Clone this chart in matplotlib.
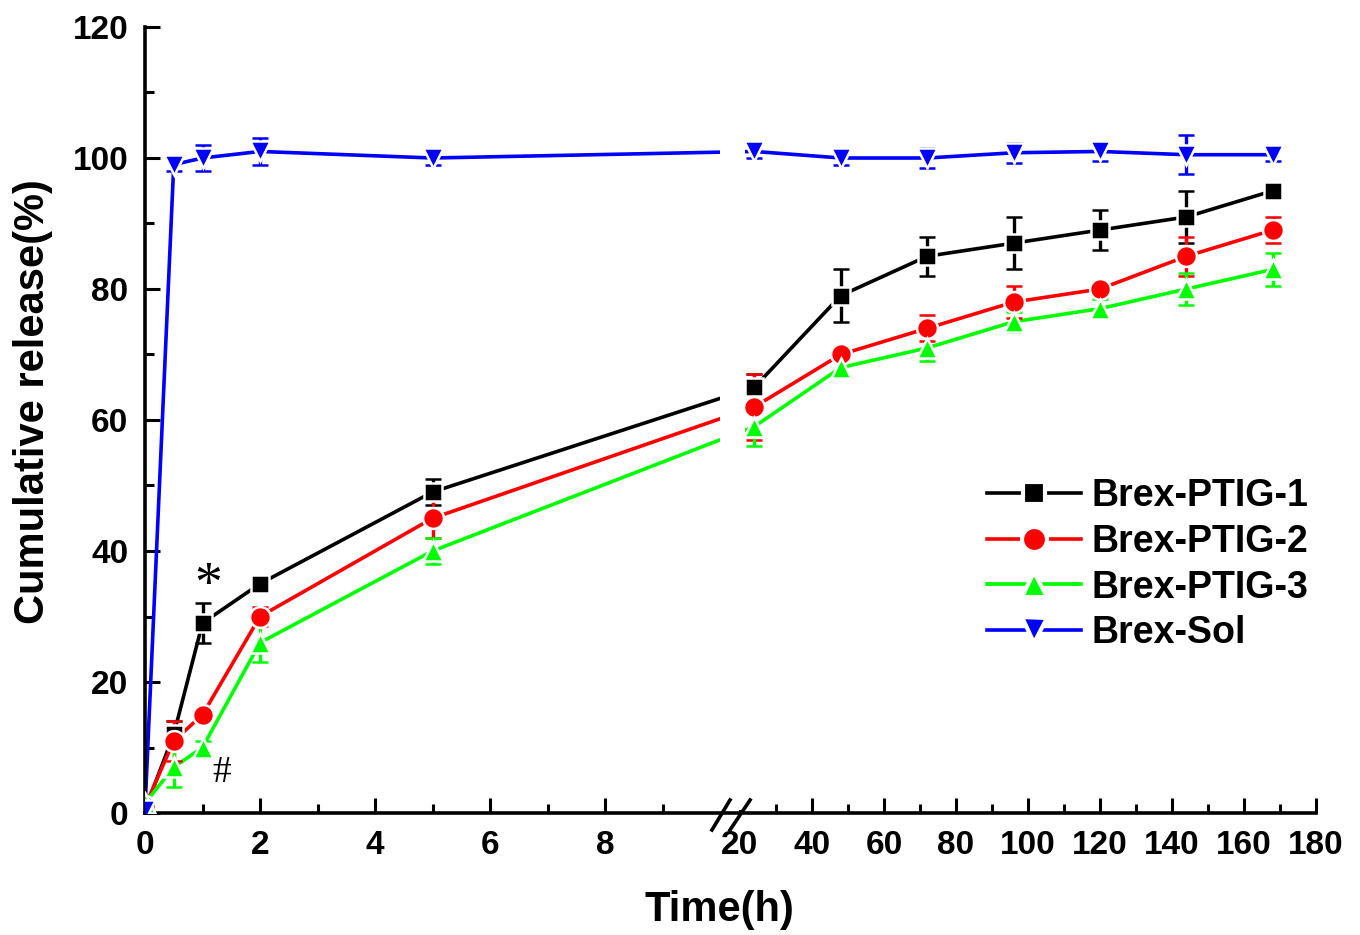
import numpy as np
import matplotlib
matplotlib.use("Agg")
import matplotlib.pyplot as plt
from matplotlib.lines import Line2D
from matplotlib.patches import Rectangle
import matplotlib.transforms as mtransforms

# 取样时间点 (h)
time_h = [0, 0.5, 1, 2, 5, 24, 48, 72, 96, 120, 144, 168]

# 累积释放 (%) 及误差
ptig1 = [0.5, 12, 29, 35, 49, 65, 79, 85, 87, 89, 91, 95]
ptig1_err = [0.5, 2, 3, 1, 2, 2, 4, 3, 4, 3, 4, 1]
ptig2 = [1, 11, 15, 30, 45, 62, 70, 74, 78, 80, 85, 89]
ptig2_err = [0.5, 3, 1, 1.5, 3, 5, 1, 2, 2.5, 1, 3, 2]
ptig3 = [1.5, 7, 10, 26, 40, 59, 68, 71, 75, 77, 80, 83]
ptig3_err = [0.5, 3, 1, 3, 2, 3, 1, 2, 1.5, 1.5, 2.5, 2.5]
sol = [0.5, 99, 100, 101, 100, 101, 100, 100, 100.8, 101, 100.5, 100.5]
sol_err = [0.5, 1, 2, 2, 1, 1, 1, 1.5, 1.5, 1.5, 3, 1]

labels = ["Brex-PTIG-1", "Brex-PTIG-2", "Brex-PTIG-3", "Brex-Sol"]
colors = ["#000000", "#ff0000", "#00ff00", "#0000ff"]
markers = ["s", "o", "^", "v"]
msizes = [13, 15, 15, 15]

x_major = [0, 2, 4, 6, 8, 20, 40, 60, 80, 100, 120, 140, 160, 180]
x_minor = [1, 3, 5, 7, 9, 30, 50, 70, 90, 110, 130, 150, 170]


def fwd(x):
    """断轴: 0-10 h 拉伸, 20-180 h 压缩"""
    x = np.asarray(x, dtype=float)
    return np.where(x <= 10, x * 57.5,
                    np.where(x < 20, 575 + (x - 10) * 2.0, 595 + (x - 20) * 3.6))


def inv(u):
    u = np.asarray(u, dtype=float)
    return np.where(u <= 575, u / 57.5,
                    np.where(u < 595, 10 + (u - 575) / 2.0, 20 + (u - 595) / 3.6))


plt.rcParams["font.family"] = ["Liberation Sans", "DejaVu Sans"]
plt.rcParams["font.weight"] = "bold"

fig = plt.figure(figsize=(13.6, 9.35), dpi=100)
ax = fig.add_axes([145 / 1360, 1 - 813 / 935, 1171 / 1360, 786 / 935])
ax.set_xscale("function", functions=(fwd, inv))
ax.set_xlim(0, 180)
ax.set_ylim(0, 120)

series = [(ptig1, ptig1_err), (ptig2, ptig2_err), (ptig3, ptig3_err), (sol, sol_err)]
handles = []
for i, (vals, errs) in enumerate(series):
    ax.plot(time_h, vals, color=colors[i], lw=2.6, zorder=2 + i * 0.01)
    ax.errorbar(time_h, vals, yerr=errs, fmt=markers[i], color=colors[i],
                ms=msizes[i], mec="white", mew=1.8, ecolor=colors[i],
                elinewidth=2.4, capsize=6, capthick=2.4, zorder=4 + i * 0.01)
    handles.append(Line2D([], [], color=colors[i], lw=2.6, marker=markers[i],
                          ms=msizes[i] + 3, mec="white", mew=3))

# 断轴处遮挡连线
trans = mtransforms.blended_transform_factory(ax.transData, ax.transAxes)
ax.add_patch(Rectangle((10.05, 0.004), 21.3 - 10.05, 0.996, transform=trans,
                       facecolor="white", edgecolor="none", zorder=3))
for x0, x1 in [(9.86, 15.0), (15.0, 22.8)]:
    ax.add_line(Line2D([x0, x1], [-0.0216, 0.0165], transform=trans, color="black",
                       lw=2.6, clip_on=False, zorder=5))

ax.set_xticks(x_major)
ax.set_xticklabels([str(v) for v in x_major])
ax.set_xticks(x_minor, minor=True)
ax.set_yticks(np.arange(0, 121, 20))
ax.set_yticks(np.arange(10, 120, 20), minor=True)

for s in ["top", "right"]:
    ax.spines[s].set_visible(False)
for s in ["left", "bottom"]:
    ax.spines[s].set_linewidth(2.6)

ax.tick_params(which="major", direction="in", length=11, width=2.2, labelsize=24)
ax.tick_params(which="minor", direction="in", length=6.5, width=2.2)
ax.tick_params(axis="x", which="major", pad=12)
ax.tick_params(axis="y", which="major", pad=12)

ax.set_xlabel("Time(h)", fontsize=30, fontweight="bold", va="center")
ax.xaxis.set_label_coords((719 - 145) / 1171, (813 - 910) / 786)
ax.set_ylabel("Cumulative release(%)", fontsize=30, fontweight="bold", va="center")
ax.yaxis.set_label_coords((33 - 145) / 1171, (813 - 402) / 786)

# 显著性标记
ax.text(1.1, 34.5, "*", fontsize=40, family="Liberation Serif", fontweight="normal",
        ha="center", va="center")
ax.text(1.33, 6.2, "#", fontsize=27, family="Liberation Serif", fontweight="normal",
        ha="center", va="center")

ax.legend(handles, labels, loc="upper left",
          bbox_to_anchor=((987 - 145) / 1171, (813 - 478) / 786),
          frameon=False, fontsize=27, handlelength=2.5, handletextpad=0.3,
          labelspacing=0.26, borderpad=0, borderaxespad=0, numpoints=1)

fig.savefig("out.png", dpi=100)
